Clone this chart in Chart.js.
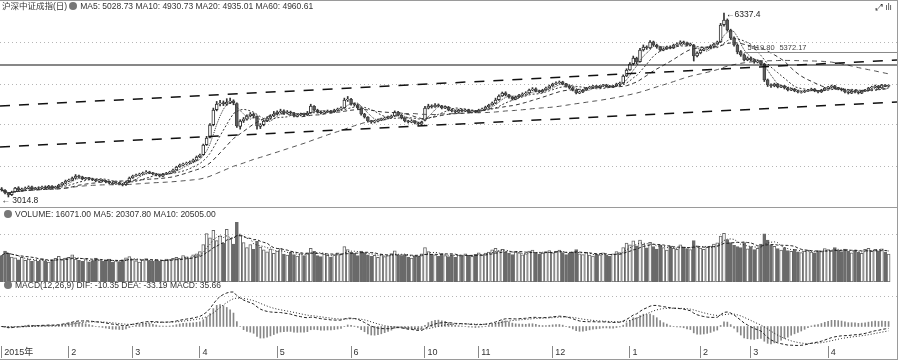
<!DOCTYPE html>
<html><head><meta charset="utf-8">
<script src="https://cdn.jsdelivr.net/npm/chart.js@4/dist/chart.umd.min.js"></script>
<style>
html,body{margin:0;padding:0;background:#fff;}
#wrap{position:relative;width:900px;height:360px;overflow:hidden;font-family:"Liberation Sans","Noto Sans CJK SC",sans-serif;}
canvas{position:absolute;left:0;}
.hdr{position:absolute;left:2px;font-size:8.5px;color:#333;white-space:nowrap;line-height:10px;z-index:5;}
.ic{display:inline-block;width:8px;height:8px;border-radius:50%;background:#777;vertical-align:-1px;margin:0 3px 0 2px;}
.hl{position:absolute;left:0;width:898px;height:1px;background:#9a9a9a;}
.vl{position:absolute;top:0;left:897px;width:1px;height:360px;background:#9a9a9a;}
</style></head>
<body>
<div id="wrap">
  <canvas id="cPrice" width="900" height="206" style="top:0"></canvas>
  <canvas id="cVol" width="900" height="66" style="top:216px"></canvas>
  <canvas id="cMacd" width="900" height="72" style="top:288px"></canvas>
  <div class="hl" style="top:0"></div>
  <div class="hl" style="top:207px"></div>
  <div class="hl" style="top:359px"></div>
  <div class="vl"></div>
  <div class="hdr" style="top:1px">沪深中证成指(日)<span class="ic"></span>MA5: 5028.73 MA10: 4930.73 MA20: 4935.01 MA60: 4960.61</div>
  <div class="hdr" style="top:2px;left:876px">⤢ ılı</div>
  <div class="hdr" style="top:209px"><span class="ic"></span>VOLUME: 16071.00 MA5: 20307.80 MA10: 20505.00</div>
  <div class="hdr" style="top:280px"><span class="ic"></span>MACD(12,26,9) DIF: -10.35 DEA: -33.19 MACD: 35.66</div>
</div>
<script>
// ---------- data ----------
const opens=[
3160,3135,3080,3055,3110,3180,3140,3160,3175,3200,
3160,3180,3175,3200,3175,3210,3180,3195,3235,3265,
3300,3320,3355,3395,3380,3340,3360,3340,3325,3300,
3320,3305,3290,3265,3250,3270,3250,3235,3290,3360,
3395,3410,3430,3450,3470,3450,3430,3415,3390,3430,
3445,3470,3505,3560,3590,3615,3630,3650,3680,3740,
3780,3960,4090,4320,4590,4700,4720,4690,4735,4750,
4700,4290,4390,4420,4480,4510,4470,4290,4320,4390,
4440,4480,4510,4550,4570,4530,4550,4530,4480,4495,
4515,4495,4535,4650,4585,4550,4530,4550,4570,4550,
4585,4605,4625,4770,4780,4690,4680,4620,4510,4455,
4390,4365,4385,4405,4420,4440,4460,4480,4550,4495,
4440,4390,4365,4390,4350,4330,4400,4620,4660,4640,
4680,4660,4620,4640,4590,4570,4545,4590,4565,4590,
4545,4570,4545,4590,4600,4640,4680,4710,4770,4840,
4895,4860,4820,4780,4820,4855,4880,4895,4950,4970,
4930,4910,4950,4985,5020,5055,5075,5095,5055,5020,
4985,4945,4890,4910,4950,4985,5000,5020,5000,5020,
5040,5020,5000,5020,5055,5075,5200,5310,5420,5520,
5460,5670,5725,5705,5815,5760,5720,5670,5690,5725,
5705,5760,5780,5815,5795,5760,5760,5560,5615,5670,
5690,5705,5740,5780,5815,6125,6210,6030,5890,5760,
5640,5580,5490,5525,5490,5450,5470,5420,5130,5040,
5020,5055,5000,5020,4985,4945,4965,4930,4905,4910,
4930,4945,4965,4930,4910,4945,4985,5000,5020,4985,
4965,4945,4910,4890,4930,4910,4890,4930,4945,4985,
5000,5020,4985,5035,5015];
const highs=[
3185,3150,3095,3120,3190,3200,3175,3195,3215,3210,
3190,3200,3210,3215,3225,3220,3210,3245,3280,3320,
3340,3375,3420,3410,3390,3370,3370,3355,3335,3335,
3330,3315,3300,3280,3280,3280,3262,3300,3375,3410,
3430,3445,3465,3490,3480,3460,3440,3425,3440,3460,
3480,3520,3570,3610,3625,3645,3665,3700,3755,3790,
3970,4110,4340,4620,4740,4760,4750,4790,4800,4770,
4715,4410,4450,4500,4540,4530,4480,4340,4405,4460,
4500,4560,4570,4600,4590,4575,4565,4545,4515,4530,
4530,4560,4690,4665,4600,4565,4570,4585,4580,4600,
4620,4645,4800,4830,4795,4715,4695,4630,4525,4465,
4400,4400,4420,4440,4460,4475,4495,4570,4560,4505,
4450,4400,4405,4395,4365,4385,4650,4690,4680,4700,
4695,4670,4660,4650,4600,4580,4600,4600,4600,4600,
4585,4580,4600,4620,4655,4690,4730,4800,4860,4910,
4915,4870,4830,4835,4870,4895,4915,4965,4990,4985,
4945,4960,5000,5035,5070,5095,5110,5105,5065,5030,
4995,4955,4925,4960,4995,5015,5030,5030,5030,5050,
5050,5030,5030,5070,5090,5220,5330,5440,5560,5540,
5700,5760,5745,5840,5830,5775,5730,5710,5740,5745,
5775,5800,5835,5830,5810,5795,5770,5635,5685,5705,
5725,5760,5795,5830,6150,6337,6230,6045,5905,5775,
5660,5600,5545,5540,5505,5490,5480,5430,5145,5060,
5070,5065,5035,5030,4995,4980,4975,4940,4925,4945,
4960,4980,4975,4940,4960,4995,5015,5035,5030,4995,
4975,4955,4920,4940,4940,4920,4940,4960,4995,5015,
5035,5030,5050,5045,5040];
const lows=[
3120,3070,3015,3040,3100,3125,3125,3150,3165,3145,
3150,3160,3165,3165,3165,3160,3170,3185,3225,3255,
3290,3310,3345,3360,3325,3330,3325,3310,3290,3290,
3290,3270,3255,3235,3240,3235,3215,3225,3280,3350,
3385,3400,3420,3440,3435,3415,3395,3375,3380,3420,
3435,3460,3495,3550,3575,3600,3615,3640,3670,3725,
3770,3945,4080,4300,4570,4660,4665,4670,4700,4680,
4270,4240,4360,4400,4460,4440,4240,4250,4300,4375,
4425,4465,4495,4530,4510,4515,4510,4460,4460,4480,
4475,4485,4525,4565,4530,4515,4520,4540,4530,4540,
4575,4595,4615,4740,4675,4655,4600,4490,4440,4365,
4345,4350,4370,4395,4410,4430,4450,4470,4480,4425,
4370,4350,4355,4335,4310,4315,4390,4605,4620,4630,
4640,4605,4610,4570,4550,4530,4535,4555,4555,4535,
4535,4535,4535,4580,4590,4630,4670,4700,4760,4830,
4840,4800,4765,4770,4810,4845,4865,4885,4935,4910,
4895,4900,4940,4975,5010,5045,5065,5040,5000,4965,
4930,4875,4880,4900,4940,4975,4990,4990,4990,5010,
5005,4990,4990,5010,5045,5065,5190,5300,5400,5420,
5450,5650,5680,5695,5740,5700,5650,5655,5680,5690,
5695,5745,5770,5780,5745,5745,5470,5545,5600,5655,
5680,5695,5730,5770,5805,6100,6010,5860,5740,5600,
5555,5470,5475,5470,5430,5435,5395,5100,5010,4995,
5005,4985,4990,4965,4930,4935,4915,4895,4890,4900,
4920,4935,4915,4895,4900,4935,4975,4990,4970,4950,
4930,4895,4875,4880,4895,4875,4880,4920,4935,4975,
4990,4970,4975,5005,5000];
const closes=[
3141,3087,3051,3105,3177,3141,3159,3177,3195,3159,
3177,3177,3195,3177,3213,3177,3195,3231,3267,3303,
3321,3358,3394,3376,3339,3358,3339,3321,3303,3321,
3303,3285,3267,3249,3267,3249,3231,3285,3358,3394,
3412,3430,3448,3466,3448,3430,3412,3394,3430,3448,
3466,3502,3556,3592,3610,3628,3646,3683,3737,3773,
3953,4080,4315,4586,4694,4712,4694,4730,4748,4712,
4297,4387,4423,4477,4513,4477,4297,4315,4387,4441,
4477,4513,4549,4568,4531,4549,4531,4477,4495,4513,
4495,4531,4658,4586,4549,4531,4549,4568,4549,4586,
4604,4622,4766,4784,4694,4676,4622,4513,4459,4387,
4369,4387,4405,4423,4441,4459,4477,4549,4495,4441,
4387,4369,4387,4351,4333,4369,4622,4658,4640,4676,
4658,4622,4640,4586,4568,4549,4586,4568,4586,4549,
4568,4549,4586,4604,4640,4676,4712,4766,4838,4893,
4857,4820,4784,4820,4857,4875,4893,4947,4965,4929,
4911,4947,4983,5019,5055,5073,5091,5055,5019,4983,
4947,4893,4911,4947,4983,5001,5019,5001,5019,5037,
5019,5001,5019,5055,5073,5200,5308,5416,5525,5452,
5669,5723,5705,5814,5760,5723,5669,5687,5723,5705,
5760,5778,5814,5796,5760,5778,5561,5615,5669,5687,
5705,5741,5778,5814,6121,6211,6030,5886,5760,5633,
5579,5489,5525,5489,5452,5471,5416,5127,5037,5019,
5055,5001,5019,4983,4947,4965,4929,4911,4911,4929,
4947,4965,4929,4911,4947,4983,5001,5019,4983,4965,
4947,4911,4893,4929,4911,4893,4929,4947,4983,5001,
5019,4983,5037,5019,5029];
const volumes=[
15200,17800,16500,14300,13900,12800,14100,12500,13200,11800,
12600,11900,13400,12200,11500,12800,13600,14800,12900,13700,
14200,15600,13100,12400,11800,12900,11600,12300,13800,12700,
11900,12500,13100,11400,12200,11700,12800,13900,14600,13200,
12100,11500,12700,13400,12300,11800,12600,11900,12400,13100,
12900,13600,14200,13500,15100,14400,13800,15600,16200,17400,
21500,27800,25300,29600,23800,26500,22400,30200,24700,21800,
34200,26900,22600,19800,21500,18700,23400,20100,18500,17300,
18900,16400,17800,19200,16100,15400,17200,15800,14900,16300,
15100,16800,19400,17600,15200,14600,16100,15300,14200,15800,
16700,15900,20300,18600,17100,16400,15200,17800,16900,15600,
14800,15300,14100,15900,14600,15200,16300,17900,15400,14700,
15800,14300,13800,15100,14900,16200,19800,17400,16100,15600,
14900,16300,15200,14600,15800,14100,15500,14800,16200,15300,
14700,15900,16800,15400,16600,17200,18500,19300,17900,18800,
17100,16400,15800,17300,16900,15600,16200,17800,18400,16700,
15900,16600,17400,18100,16800,17600,18300,16900,15700,16400,
17300,18600,16200,15800,16700,15400,14900,16100,15600,16800,
15300,14700,16200,17500,16900,19800,22400,21300,23600,20800,
24100,21700,19600,22800,20400,18900,21200,19700,18400,20600,
19300,18700,21400,20100,19200,18600,23800,20700,19500,18800,
19900,20600,21800,22500,26400,27900,24300,22600,21100,20400,
19800,22700,19100,20300,18600,19400,21800,27600,24100,21300,
20500,19200,18400,19700,18100,17600,18800,17300,16900,17800,
18400,17200,16800,18100,17500,19200,18600,17900,19800,18300,
17400,18900,17700,16800,18200,17100,16500,18700,19400,17600,
18800,17900,19100,17200,16071];
const tickIdx=[0,20,39,59,82,104,126,142,164,187,208,223,246];
const tickLabels=['2015年','2','3','4','5','6','10','11','12','1','2','3','4'];
const priceGrid=[3574,4315,5055,5796];
const trendUpper=[[-0.5,4658],[266.5,5489]];
const trendLower=[[-0.5,3917],[266.5,4730]];
const levelLine=[[-0.5,5398],[266.5,5398]];
const levelLine2=[[221,5624],[266.5,5624]];
const highMark={i:215,v:6337.4,text:'←6337.4'};
const lowMark={i:2,v:3014.8,text:'← 3014.8'};
const lineNotes=[{i:222,v:5705,text:'5419.80'},{i:231.5,v:5705,text:'5372.17'}];

// ---------- indicators derived from the data ----------
function sma(a,n){return a.map((_,i)=>{const s=Math.max(0,i-n+1);let t=0;for(let k=s;k<=i;k++)t+=a[k];return t/(i-s+1);});}
function ema(a,n){const k=2/(n+1);const o=[];a.forEach((v,i)=>o.push(i?o[i-1]+k*(v-o[i-1]):v));return o;}
const e12=ema(closes,12),e26=ema(closes,26);
const dif=e12.map((v,i)=>v-e26[i]);
const dea=ema(dif,9);
const hist=dif.map((v,i)=>2*(v-dea[i]));
const pts=a=>a.map((v,i)=>({x:i,y:v}));
const seg=a=>a.map(p=>({x:p[0],y:p[1]}));
const up=closes.map((c,i)=>c>=opens[i]);

const FONT='"Liberation Sans","Noto Sans CJK SC",sans-serif';
const X_MIN=-0.5,X_MAX=266.5;
const hiddenX={type:'linear',min:X_MIN,max:X_MAX,display:false,offset:false,grid:{offset:false}};
function hiddenY(min,max,grid){return {type:'linear',min,max,position:'left',
  afterFit(a){a.width=0;},afterBuildTicks(a){a.ticks=grid.map(v=>({value:v}));},
  ticks:{display:false},border:{display:false,dash:[1,3]},
  grid:{color:'#b5b5b5',lineWidth:1,drawTicks:false}};}
const baseOpts={responsive:false,animation:false,events:[],
  layout:{padding:{left:0,right:3,top:0,bottom:0}},
  plugins:{legend:{display:false},tooltip:{enabled:false}}};
const line=(data,dash,color,w,order)=>({type:'line',data,borderColor:color||'#222',borderWidth:w||1,
  borderDash:dash,pointRadius:0,fill:false,tension:0,order:order||0});

// ---------- price panel ----------
const notes={id:'notes',afterDatasetsDraw(ch){
  const {ctx,scales:{x,y}}=ch;ctx.save();ctx.font='8.5px '+FONT;ctx.fillStyle='#222';
  ctx.textBaseline='middle';ctx.textAlign='left';
  ctx.fillText(highMark.text,x.getPixelForValue(highMark.i)+2,y.getPixelForValue(highMark.v)+2);
  ctx.fillText(lowMark.text,x.getPixelForValue(lowMark.i)-7,y.getPixelForValue(lowMark.v)+4);
  ctx.fillStyle='#444';ctx.font='7.5px '+FONT;
  lineNotes.forEach(n=>ctx.fillText(n.text,x.getPixelForValue(n.i),y.getPixelForValue(n.v)));
  ctx.restore();}};
new Chart(document.getElementById('cPrice'),{
  data:{datasets:[
    line(seg(trendUpper),[10,9],'#111',1.5,0),
    line(seg(trendLower),[10,9],'#111',1.5,0),
    line(seg(levelLine),[],'#111',1.2,0),
    line(seg(levelLine2),[],'#888',1,0),
    line(pts(sma(closes,5)),[1,1],'#333',1,1),
    line(pts(sma(closes,10)),[2,2],'#333',1,1),
    line(pts(sma(closes,20)),[4,3],'#333',1,1),
    line(pts(sma(closes,60)),[5,4],'#555',1,1),
    {type:'bar',data:closes.map((c,i)=>({x:i,y:[lows[i],highs[i]]})),backgroundColor:'#333',
      barThickness:1,grouped:false,order:3},
    {type:'bar',data:closes.map((c,i)=>({x:i,y:[opens[i],c]})),
      backgroundColor:up.map(u=>u?'#ffffff':'#5e5e5e'),borderColor:up.map(u=>u?'#333':'#444'),
      borderWidth:1,borderSkipped:false,barThickness:3,grouped:false,order:2}
  ]},
  options:{...baseOpts,scales:{x:hiddenX,y:hiddenY(2852,6572,priceGrid)}},
  plugins:[notes]
});

// ---------- volume panel ----------
new Chart(document.getElementById('cVol'),{
  data:{datasets:[
    line(pts(sma(volumes,5)),[1,2],'#222',1,0),
    line(pts(sma(volumes,10)),[3,2],'#222',1,0),
    {type:'bar',data:pts(volumes),backgroundColor:up.map(u=>u?'#ffffff':'#6a6a6a'),
      borderColor:up.map(u=>u?'#666':'#6a6a6a'),borderWidth:1,borderSkipped:false,
      barThickness:3,grouped:false,order:2}
  ]},
  options:{...baseOpts,scales:{x:hiddenX,y:hiddenY(0,37900,[27550])}}
});

// ---------- MACD panel ----------
const posMax=Math.max(...dif,...dea,...hist);
const u=posMax/34.5;
new Chart(document.getElementById('cMacd'),{
  data:{datasets:[
    line(pts(dif),[3,2],'#222',1,0),
    line(pts(dea),[1,2],'#222',1,0),
    {type:'bar',data:pts(hist),backgroundColor:'#888',barThickness:1,grouped:false,order:2}
  ]},
  options:{...baseOpts,scales:{
    x:{type:'linear',min:X_MIN,max:X_MAX,position:'bottom',offset:false,
      afterBuildTicks(a){a.ticks=tickIdx.map(v=>({value:v}));},
      afterFit(a){a.height=14;},
      ticks:{autoSkip:false,maxRotation:0,minRotation:0,align:'start',padding:-11,
        font:{size:9,family:FONT},color:'#333',
        callback:v=>' '+tickLabels[tickIdx.indexOf(v)]},
      grid:{offset:false,drawOnChartArea:false,drawTicks:true,tickLength:12,color:'#888'},
      border:{display:false}},
    y:hiddenY(-u*19.5,u*38.5,[u*29.5])}}
});
</script>
</body></html>
